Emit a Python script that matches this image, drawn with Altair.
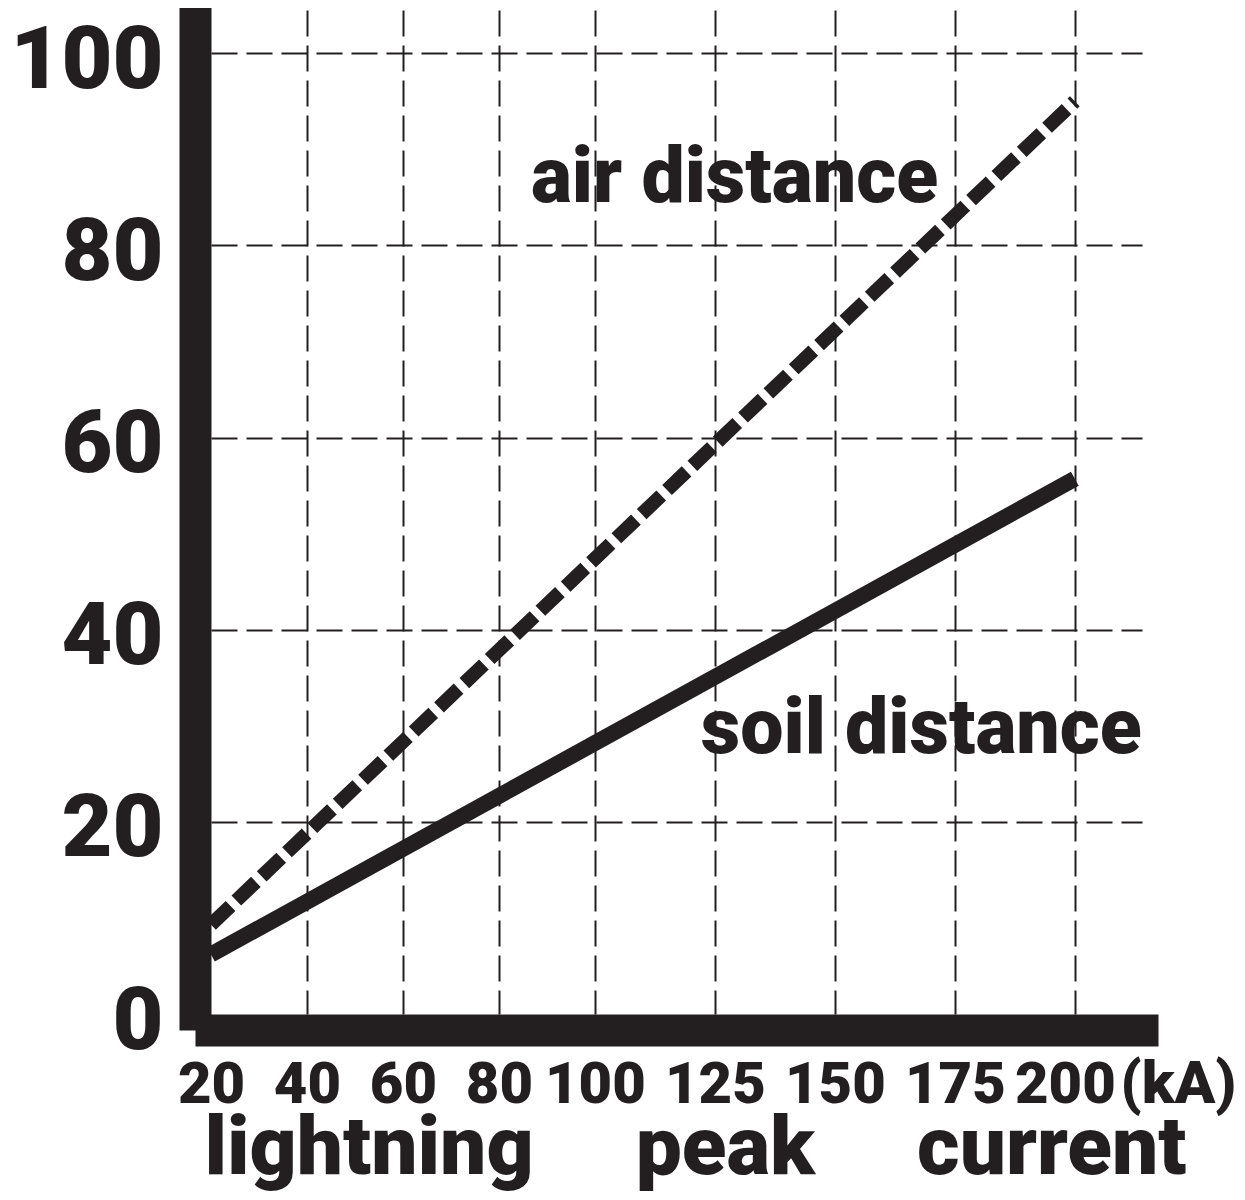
import altair as alt
import pandas as pd

# ---- data ----
current_ka = [20, 200]
air_distance = [9.3, 95.0]
soil_distance = [6.2, 55.7]
x_ticks = [20, 40, 60, 80, 100, 125, 150, 175, 200]
y_ticks = [0, 20, 40, 60, 80, 100]
series_names = ["air distance", "soil distance"]

INK = "#231f20"
FONT = "Roboto"
SP = "\u00a0" * 5

df = pd.DataFrame({
    "current": current_ka + current_ka,
    "distance": air_distance + soil_distance,
    "series": [series_names[0]] * len(current_ka) + [series_names[1]] * len(current_ka),
})

x_scale = alt.Scale(domain=[20, 214], nice=False, zero=False)
y_scale = alt.Scale(domain=[0, 104.5], nice=False, zero=False)

x_axis = alt.Axis(
    values=x_ticks,
    title=f"lightning{SP}peak{SP}current",
    titleFont=FONT, titleFontSize=82, titleFontWeight=900, titleColor=INK,
    titleX=484, titleY=143, titleBaseline="alphabetic", titleAlign="center",
    grid=True, gridColor=INK, gridDash=[26, 9], gridWidth=2,
    gridOpacity={"condition": {"test": "datum.value === 20", "value": 0}, "value": 1},
    domain=True, domainColor=INK, domainWidth=32, domainCap="square", offset=16,
    ticks=False,
    labelFont=FONT, labelFontSize=58, labelFontWeight=900, labelColor=INK,
    labelPadding=26, labelOverlap=False, labelFlush=False,
    labelOffset={"condition": {"test": "datum.value === 200", "value": -10}, "value": 0},
)
y_axis = alt.Axis(
    values=y_ticks,
    title=None,
    grid=True, gridColor=INK, gridDash=[26, 9], gridWidth=2,
    gridOpacity={"condition": {"test": "datum.value === 0", "value": 0}, "value": 1},
    domain=True, domainColor=INK, domainWidth=32, domainCap="square", offset=16,
    ticks=False,
    labelFont=FONT, labelFontSize=88, labelFontWeight=900, labelColor=INK,
    labelPadding=32, labelOffset=8, labelOverlap=False, labelFlush=False,
)

base = alt.Chart(df)

air = base.transform_filter(alt.datum.series == series_names[0]).mark_line(
    color=INK, strokeWidth=14, strokeDash=[27, 8], strokeCap="butt"
).encode(
    x=alt.X("current:Q", scale=x_scale, axis=x_axis),
    y=alt.Y("distance:Q", scale=y_scale, axis=y_axis),
)

soil = base.transform_filter(alt.datum.series == series_names[1]).mark_line(
    color=INK, strokeWidth=16, strokeCap="butt"
).encode(
    x=alt.X("current:Q", scale=x_scale),
    y=alt.Y("distance:Q", scale=y_scale),
)

txt = dict(font=FONT, fontWeight=900, color=INK, align="center", baseline="alphabetic")
one = pd.DataFrame({"k": [0]})

air_label = alt.Chart(one).mark_text(text=series_names[0], fontSize=77, **txt).encode(
    x=alt.datum(129.1), y=alt.datum(84.5))
soil_label = alt.Chart(one).mark_text(text=series_names[1], fontSize=77, **txt).encode(
    x=alt.datum(168.0), y=alt.datum(27.2))
unit_label = alt.Chart(one).mark_text(text="(kA)", fontSize=60, **txt).encode(
    x=alt.datum(221.6), y=alt.datum(-9.3))

chart = alt.layer(air, soil, air_label, soil_label, unit_label).properties(
    width=931, height=1004,
    autosize=alt.AutoSizeParams(type="none"),
    padding={"left": 203, "top": 2, "right": 95, "bottom": 178},
    background="white",
).configure_view(stroke=None)

chart.save("out.html", embed_options={"renderer": "svg", "actions": False})
